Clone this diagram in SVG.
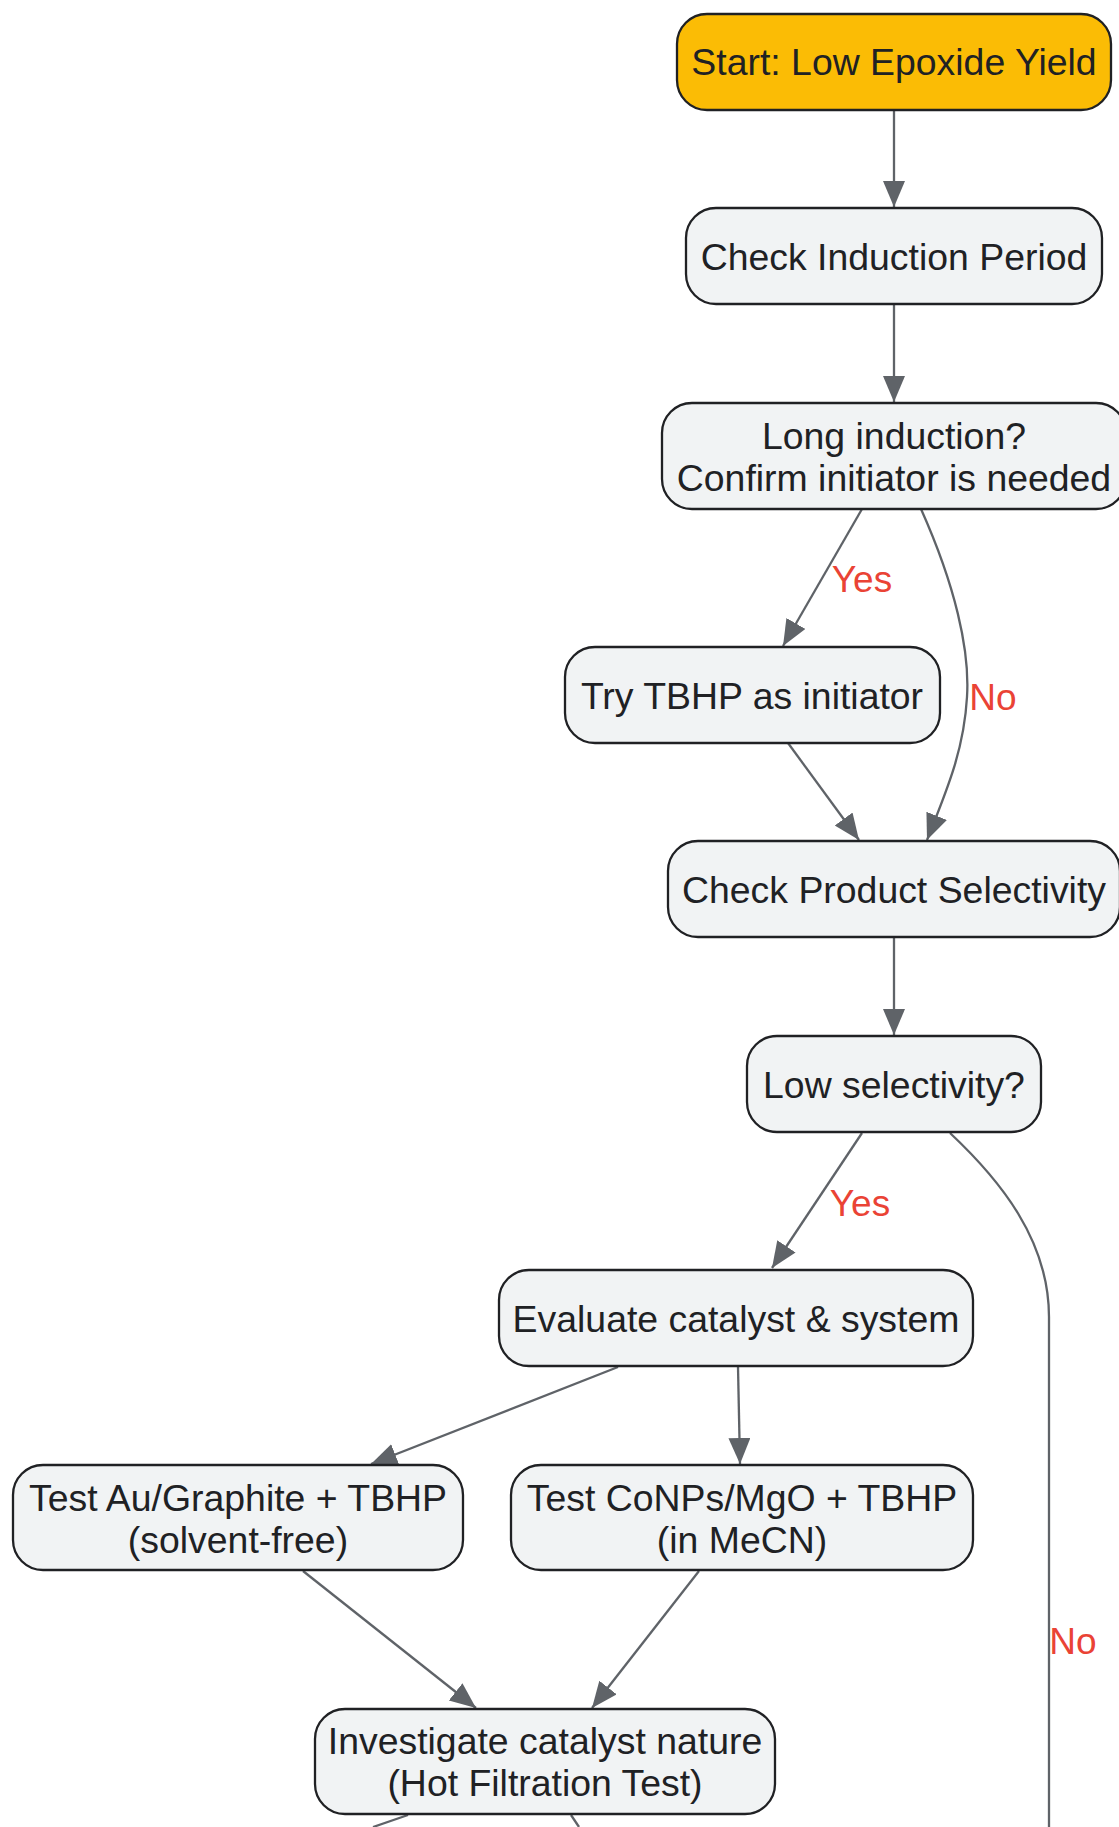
<svg xmlns="http://www.w3.org/2000/svg" width="1119" height="1827" viewBox="0 0 1119 1827">
<style>
.n rect{fill:#F1F3F4;stroke:#202124;stroke-width:2.3}
.n text,.s text{font-family:"Liberation Sans",Arial,sans-serif;font-size:37.4px;fill:#202124;text-anchor:middle}
.e path{fill:none;stroke:#5F6368;stroke-width:2.3;marker-end:url(#ah)}
.lb{font-family:"Liberation Sans",Arial,sans-serif;font-size:37px;fill:#EA4335;text-anchor:middle}
</style>
<defs>
<marker id="ah" markerUnits="userSpaceOnUse" markerWidth="28" markerHeight="24" refX="26" refY="11" orient="auto">
<path d="M0,0 L26,11 L0,22 z" fill="#5F6368"/>
</marker>
</defs>
<rect width="1119" height="1827" fill="#FFFFFF"/>
<g id="edges" class="e">
<path d="M894,110 L894,207"/>
<path d="M894,304 L894,402"/>
<path d="M862,509 L783,646"/>
<path d="M921,509 C955,585 970,650 967,697 C964,750 947,790 927,840"/>
<path d="M788,743 L859,840"/>
<path d="M894,937 L894,1035"/>
<path d="M862,1133 L772,1268"/>
<path d="M950,1133 C1000,1180 1049,1240 1049,1317 L1049,1830" style="marker-end:none"/>
<path d="M618,1367 L371,1464"/>
<path d="M738,1367 L740,1464"/>
<path d="M303,1571 L476,1708"/>
<path d="M699,1571 L592,1708"/>
<path d="M408,1815 L373,1827" style="marker-end:none"/>
<path d="M571,1815 L579,1827" style="marker-end:none"/>
</g>
<g id="labels">
<text class="lb" x="862" y="592">Yes</text>
<text class="lb" x="993" y="710">No</text>
<text class="lb" x="860" y="1216">Yes</text>
<text class="lb" x="1073" y="1654">No</text>
</g>
<g id="start" class="s">
<rect x="677" y="14" width="434" height="96" rx="30" fill="#FBBC05" stroke="#202124" stroke-width="2.3"/>
<text x="894" y="75">Start: Low Epoxide Yield</text>
</g>
<g id="checkInduction" class="n">
<rect x="686" y="208" width="416" height="96" rx="30"/>
<text x="894" y="270">Check Induction Period</text>
</g>
<g id="longInduction" class="n">
<rect x="662" y="403" width="464" height="106" rx="30"/>
<text x="894" y="449">Long induction?</text>
<text x="894" y="491">Confirm initiator is needed</text>
</g>
<g id="tryTBHP" class="n">
<rect x="565" y="647" width="375" height="96" rx="30"/>
<text x="752" y="709">Try TBHP as initiator</text>
</g>
<g id="checkSelectivity" class="n">
<rect x="668" y="841" width="452" height="96" rx="30"/>
<text x="894" y="903">Check Product Selectivity</text>
</g>
<g id="lowSelectivity" class="n">
<rect x="747" y="1036" width="294" height="96" rx="30"/>
<text x="894" y="1098">Low selectivity?</text>
</g>
<g id="evaluate" class="n">
<rect x="499" y="1270" width="474" height="96" rx="30"/>
<text x="736" y="1332">Evaluate catalyst &amp; system</text>
</g>
<g id="testAu" class="n">
<rect x="13" y="1465" width="450" height="105" rx="30"/>
<text x="238" y="1511">Test Au/Graphite + TBHP</text>
<text x="238" y="1553">(solvent-free)</text>
</g>
<g id="testCo" class="n">
<rect x="511" y="1465" width="462" height="105" rx="30"/>
<text x="742" y="1511">Test CoNPs/MgO + TBHP</text>
<text x="742" y="1553">(in MeCN)</text>
</g>
<g id="investigate" class="n">
<rect x="315" y="1709" width="460" height="105" rx="30"/>
<text x="545" y="1754">Investigate catalyst nature</text>
<text x="545" y="1796">(Hot Filtration Test)</text>
</g>
</svg>
